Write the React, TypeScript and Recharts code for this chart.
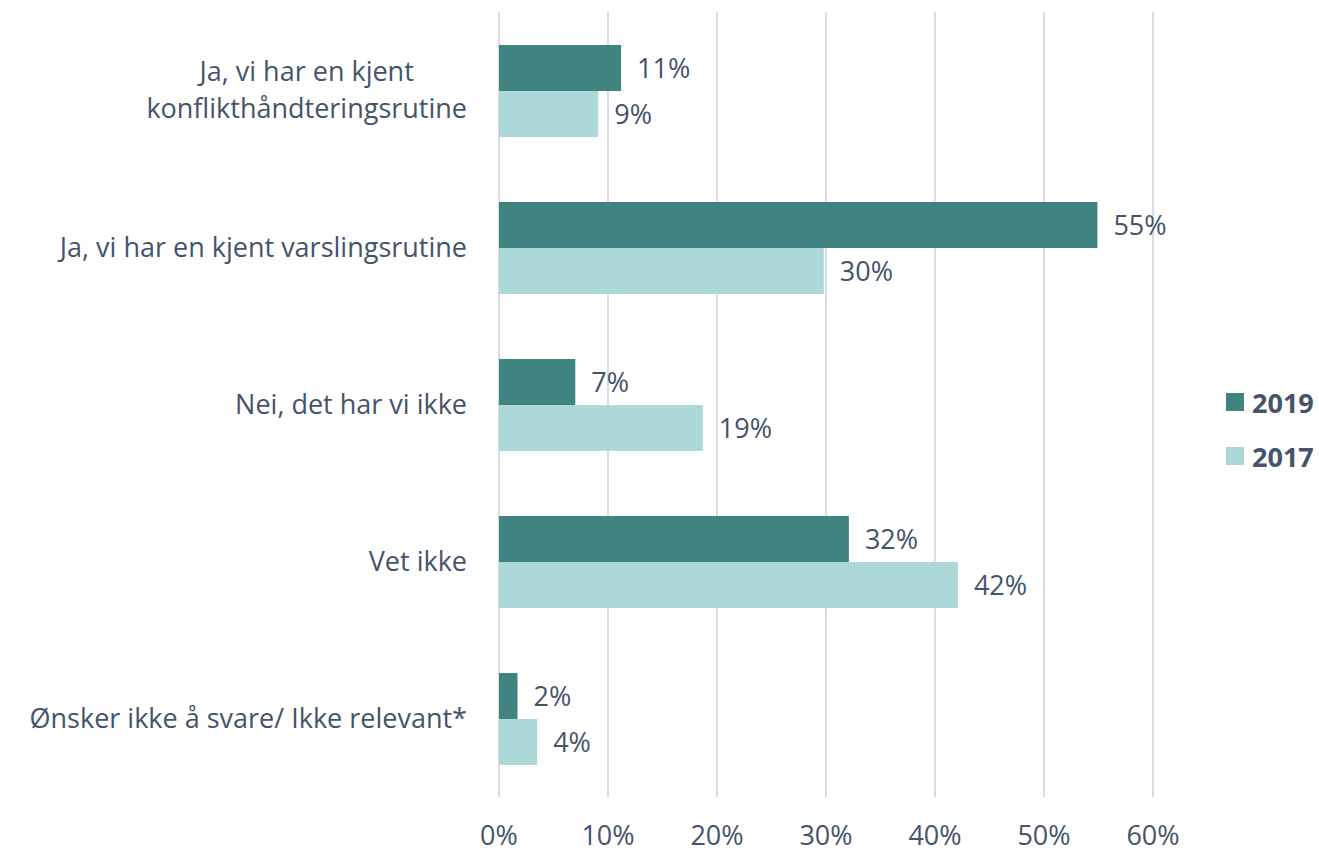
import { BarChart, Bar, XAxis, YAxis, CartesianGrid, LabelList } from 'recharts'

const categories = [
  ['Ja, vi har en kjent', 'konflikthåndteringsrutine'],
  ['Ja, vi har en kjent varslingsrutine'],
  ['Nei, det har vi ikke'],
  ['Vet ikke'],
  ['Ønsker ikke å svare/ Ikke relevant*'],
]
const values2019 = [11.2, 54.9, 7.0, 32.1, 1.7]
const values2017 = [9.1, 29.8, 18.7, 42.1, 3.5]
const xTicks = [0, 10, 20, 30, 40, 50, 60]
const seriesNames = ['2019', '2017']

const TEXT = '#44546a'
const DARK = '#3f8481'
const LIGHT = '#acd8d7'
const FONT = 'Open Sans, sans-serif'
const FS = 27

const chartData = categories.map((lines, i) => ({
  name: lines.join(' '),
  y2019: values2019[i],
  y2017: values2017[i],
}))

const pct = (v: number) => `${Math.round(v)}%`

let ctx: CanvasRenderingContext2D | null = null
function textWidth(s: string) {
  if (!ctx) ctx = document.createElement('canvas').getContext('2d')
  if (!ctx) return s.length * FS * 0.5
  ctx.font = `${FS}px ${FONT}`
  return ctx.measureText(s).width
}

// wrapped labels are centred on each other, block right-aligned to the axis
function CategoryTick({ x, y, index }: any) {
  const lines = categories[index] ?? []
  const lineHeight = 37
  const start = -((lines.length - 1) * lineHeight) / 2
  const right = x - 24
  const maxW = Math.max(...lines.map(textWidth))
  const cx = lines.length > 1 ? right - maxW / 2 : right
  const anchor = lines.length > 1 ? 'middle' : 'end'
  return (
    <text x={cx} y={y} textAnchor={anchor} fill={TEXT} fontSize={FS} fontFamily={FONT}>
      {lines.map((l, i) => (
        <tspan key={i} x={cx} y={y + start + i * lineHeight} dy="0.35em">
          {l}
        </tspan>
      ))}
    </text>
  )
}

function LegendBox() {
  const colors = [DARK, LIGHT]
  return (
    <div style={{ position: 'absolute', left: 1226, top: 375, fontFamily: FONT }}>
      {seriesNames.map((label, i) => (
        <div key={label} style={{ display: 'flex', alignItems: 'center', height: 54 }}>
          <span style={{ width: 18, height: 18, background: colors[i], marginRight: 8 }} />
          <span style={{ color: TEXT, fontWeight: 700, fontSize: FS }}>{label}</span>
        </div>
      ))}
    </div>
  )
}

export default function App() {
  return (
    <div style={{ position: 'absolute', left: 0, top: 0, width: 1319, height: 852, background: '#fff' }}>
      <BarChart
        width={1319}
        height={852}
        data={chartData}
        layout="vertical"
        margin={{ top: 12, right: 166, bottom: 0, left: 0 }}
        barCategoryGap="21%"
        barGap={0}
      >
        <CartesianGrid horizontal={false} stroke="#d9dde3" strokeWidth={2} />
        <XAxis
          type="number"
          domain={[0, 60]}
          ticks={xTicks}
          height={55}
          axisLine={false}
          tickLine={false}
          tickFormatter={(v) => `${v}%`}
          tick={{ fill: TEXT, fontSize: FS, fontFamily: FONT }}
          tickMargin={23}
        />
        <YAxis
          type="category"
          dataKey="name"
          width={499}
          axisLine={false}
          tickLine={false}
          tick={<CategoryTick />}
          interval={0}
        />
        <Bar dataKey="y2019" name={seriesNames[0]} fill={DARK} isAnimationActive={false}>
          <LabelList dataKey="y2019" position="right" offset={16} formatter={pct} fill={TEXT} fontSize={FS} fontFamily={FONT} />
        </Bar>
        <Bar dataKey="y2017" name={seriesNames[1]} fill={LIGHT} isAnimationActive={false}>
          <LabelList dataKey="y2017" position="right" offset={16} formatter={pct} fill={TEXT} fontSize={FS} fontFamily={FONT} />
        </Bar>
      </BarChart>
      <LegendBox />
    </div>
  )
}
